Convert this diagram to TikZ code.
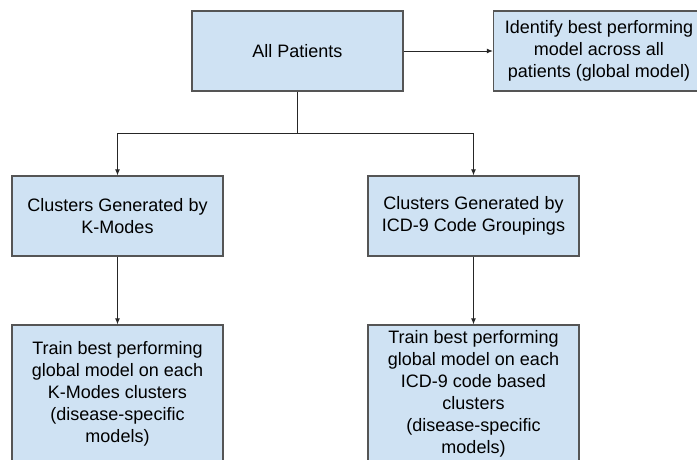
\documentclass[tikz,border=0pt]{standalone}
\usepackage{fontspec}
\setmainfont{Liberation Sans}
\usepackage{tikz}
\usepackage{xcolor}
\usetikzlibrary{arrows.meta}

\definecolor{boxfill}{HTML}{CFE2F3}
\definecolor{boxline}{HTML}{555555}

\begin{document}
\begin{tikzpicture}[x=1pt, y=-1pt,
    stage/.style={draw=boxline, line width=1.3pt, fill=boxfill, align=center,
      minimum width=\boxwd pt, inner sep=0pt,
      font=\fontsize{18}{22}\selectfont},
    flow/.style={-{Latex[length=6pt,width=5pt]}, line width=0.9pt, draw=black!85}]
    \def\boxwd{211}
    \clip (0,0) rectangle (697,459);
    % top row
    \node[stage, minimum height=80pt] (all) at (297.5,51) {All Patients};
    \node[stage, minimum height=80pt] (best) at (599,51)
      {Identify best performing\\ model across all\\ patients (global model)};
    % clusters
    \node[stage, minimum height=80pt] (kmodes) at (117.5,216)
      {Clusters Generated by\\ K-Modes};
    \node[stage, minimum height=80pt] (icd) at (473.5,216)
      {Clusters Generated by\\ ICD-9 Code Groupings};
    % disease-specific models
    \node[stage, minimum height=138pt] (trainkm) at (117.5,394)
      {Train best performing\\ global model on each\\ K-Modes clusters\\ (disease-specific\\ models)};
    \node[stage, minimum height=138pt] (trainicd) at (473.5,394)
      {Train best performing\\ global model on each\\ ICD-9 code based\\ clusters\\ (disease-specific\\ models)};
    \coordinate (split) at (297.5,133);
    \draw[flow] (all) -- (best);
    \draw[line width=0.9pt, draw=black!85] (all.south) -- (split);
    \draw[flow] (split) -| (kmodes.north);
    \draw[flow] (split) -| (icd.north);
    \draw[flow] (kmodes) -- (trainkm);
    \draw[flow] (icd) -- (trainicd);
  \end{tikzpicture}
\end{document}
